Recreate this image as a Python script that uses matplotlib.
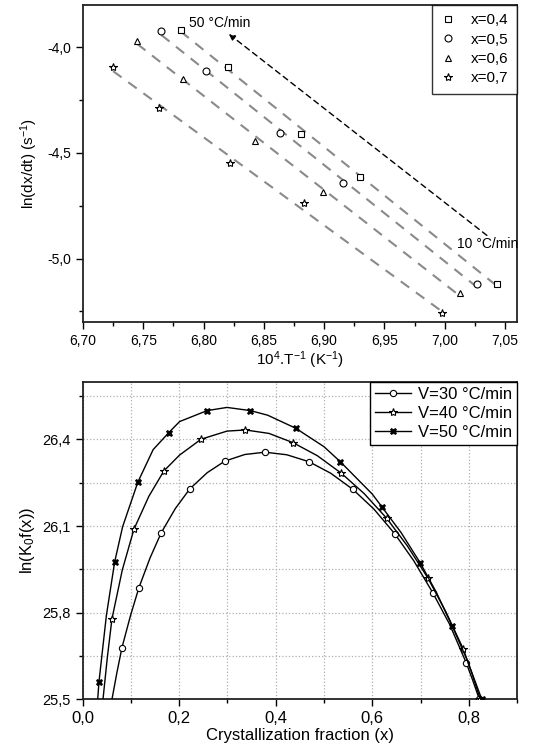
import numpy as np
import matplotlib
matplotlib.use("Agg")
import matplotlib.pyplot as plt
from matplotlib.ticker import MultipleLocator, FuncFormatter

plt.rcParams['font.family'] = ['Liberation Sans', 'DejaVu Sans']
plt.rcParams['mathtext.fontset'] = 'custom'
plt.rcParams['mathtext.rm'] = 'Liberation Sans'
plt.rcParams['mathtext.it'] = 'Liberation Sans'

# ---------------- Top panel data ----------------
top_labels = ['x=0,4', 'x=0,5', 'x=0,6', 'x=0,7']
top_markers = ['s', 'o', '^', '*']
invT_04 = [6.781, 6.820, 6.881, 6.930, 7.043]
rate_04 = [-3.917, -4.094, -4.408, -4.613, -5.118]
invT_05 = [6.765, 6.802, 6.863, 6.916, 7.027]
rate_05 = [-3.925, -4.110, -4.406, -4.644, -5.121]
invT_06 = [6.745, 6.783, 6.843, 6.899, 7.013]
rate_06 = [-3.968, -4.149, -4.443, -4.684, -5.163]
invT_07 = [6.725, 6.763, 6.822, 6.883, 6.998]
rate_07 = [-4.094, -4.288, -4.547, -4.737, -5.258]
top_x = [invT_04, invT_05, invT_06, invT_07]
top_y = [rate_04, rate_05, rate_06, rate_07]

# ---------------- Bottom panel data ----------------
bot_labels = ['V=30 °C/min', 'V=40 °C/min', 'V=50 °C/min']
bot_markers = ['o', '*', 'X']
x30 = [0.0606, 0.071, 0.0813, 0.099, 0.1165, 0.1396, 0.1627, 0.192, 0.222, 0.258, 0.2944,
       0.336, 0.3778, 0.423, 0.4689, 0.514, 0.560, 0.6034, 0.6468, 0.686, 0.7255, 0.760,
       0.7946, 0.808, 0.822]
y30 = [25.500, 25.594, 25.679, 25.790, 25.887, 25.990, 26.077, 26.161, 26.229, 26.285, 26.325,
       26.348, 26.356, 26.347, 26.323, 26.283, 26.227, 26.159, 26.073, 25.980, 25.869, 25.761,
       25.627, 25.567, 25.500]
m30 = [2, 4, 6, 8, 10, 12, 14, 16, 18, 20, 22, 24]
x40 = [0.042, 0.051, 0.0606, 0.082, 0.1061, 0.137, 0.1682, 0.2007, 0.2454, 0.299, 0.3373,
       0.386, 0.4358, 0.486, 0.536, 0.583, 0.630, 0.6725, 0.715, 0.752, 0.789, 0.8065, 0.824]
y40 = [25.500, 25.645, 25.779, 25.948, 26.089, 26.203, 26.291, 26.346, 26.401, 26.429, 26.433,
       26.421, 26.389, 26.344, 26.283, 26.213, 26.127, 26.032, 25.921, 25.805, 25.673, 25.590,
       25.500]
m40 = [2, 4, 6, 8, 10, 12, 14, 16, 18, 20, 22]
x50 = [0.031, 0.0337, 0.049, 0.0662, 0.0827, 0.1144, 0.146, 0.1786, 0.2007, 0.2578, 0.299,
       0.3476, 0.3834, 0.4413, 0.500, 0.5338, 0.600, 0.6207, 0.660, 0.6993, 0.733, 0.7656,
       0.797, 0.827]
y50 = [25.500, 25.561, 25.790, 25.976, 26.098, 26.253, 26.365, 26.424, 26.462, 26.500, 26.511,
       26.500, 26.484, 26.439, 26.375, 26.323, 26.211, 26.165, 26.077, 25.973, 25.870, 25.754,
       25.635, 25.500]
m50 = [1, 3, 5, 7, 9, 11, 13, 15, 17, 19, 21, 23]
bot_x = [x30, x40, x50]
bot_y = [y30, y40, y50]
bot_m = [m30, m40, m50]

fig = plt.figure(figsize=(5.33, 7.51), dpi=100)

def comma(fmt):
    return FuncFormatter(lambda v, p: (fmt % v).replace('.', ','))

def style_axes(ax, fs):
    for s in ax.spines.values():
        s.set_linewidth(1.3)
        s.set_color('#222222')
    ax.tick_params(which='major', direction='out', length=5, width=1, labelsize=fs,
                   top=False, right=False)
    ax.tick_params(which='minor', direction='out', length=3, width=1,
                   top=False, right=False)

# ---------------- Top axes ----------------
ax1 = fig.add_axes([0.1557, 0.5712, 0.8143, 0.4221])
for xs, ys, mk, lab in zip(top_x, top_y, top_markers, top_labels):
    xs = np.array(xs); ys = np.array(ys)
    k, b = np.polyfit(xs, ys, 1)
    xl = np.array([xs.min(), xs.max()])
    ax1.plot(xl, k * xl + b, color='#8a8a8a', lw=1.5, ls=(0, (5, 4)), zorder=1)
    ax1.plot(xs, ys, ls='none', marker=mk, mfc='white', mec='black', mew=0.8,
             ms=6 if mk == '*' else 5, label=lab, zorder=3)

ax1.annotate('', xy=(6.821, -3.937), xytext=(7.035, -4.89),
             arrowprops=dict(arrowstyle='-|>', color='black', lw=1.0, ls=(0, (4, 3)),
                             mutation_scale=9, shrinkA=0, shrinkB=0))
ax1.text(6.788, -3.887, '50 °C/min', fontsize=10, va='center', ha='left')
ax1.text(7.010, -4.932, '10 °C/min', fontsize=10, va='center', ha='left')

ax1.set_xlim(6.70, 7.06)
ax1.set_ylim(-5.30, -3.80)
ax1.xaxis.set_major_locator(MultipleLocator(0.05))
ax1.xaxis.set_minor_locator(MultipleLocator(0.025))
ax1.yaxis.set_major_locator(MultipleLocator(0.5))
ax1.yaxis.set_minor_locator(MultipleLocator(0.25))
ax1.xaxis.set_major_formatter(comma('%.2f'))
ax1.yaxis.set_major_formatter(comma('%.1f'))
style_axes(ax1, 10)
ax1.set_xlabel(r'10$^{4}$.T$^{-1}$ (K$^{-1}$)', fontsize=11, labelpad=1)
ax1.set_ylabel(r'ln(dx/dt) (s$^{-1}$)', fontsize=11, labelpad=5)
leg1 = ax1.legend(loc='upper right', fontsize=11, frameon=True, fancybox=False,
                  edgecolor='black', handlelength=1.0, handletextpad=1.0,
                  borderpad=0.55, labelspacing=0.35, borderaxespad=0.0)
leg1.get_frame().set_linewidth(1.0)

# ---------------- Bottom axes ----------------
ax2 = fig.add_axes([0.1552, 0.0688, 0.8148, 0.4229])
for xs, ys, mk, ms, lab in zip(bot_x, bot_y, bot_markers, bot_m, bot_labels):
    if mk == 'o':
        kw = dict(mfc='white', mec='black', ms=4.5, mew=0.8)
    elif mk == '*':
        kw = dict(mfc='white', mec='black', ms=6, mew=0.8)
    else:
        kw = dict(mfc='black', mec='black', ms=4.5, mew=0.5)
    ax2.plot(xs, ys, color='black', lw=1.0, marker=mk, markevery=ms, label=lab,
             zorder=3, **kw)

ax2.set_xlim(0.0, 0.9)
ax2.set_ylim(25.5, 26.6)
ax2.xaxis.set_major_locator(MultipleLocator(0.2))
ax2.xaxis.set_minor_locator(MultipleLocator(0.1))
ax2.yaxis.set_major_locator(MultipleLocator(0.3))
ax2.yaxis.set_minor_locator(MultipleLocator(0.15))
ax2.xaxis.set_major_formatter(comma('%.1f'))
ax2.yaxis.set_major_formatter(comma('%.1f'))
ax2.grid(which='both', color='#b0b0b0', ls=':', lw=0.9)
ax2.set_axisbelow(True)
style_axes(ax2, 10.5)
ax2.tick_params(axis='x', which='major', labelsize=12)
ax2.set_xlabel('Crystallization fraction (x)', fontsize=12, labelpad=1)
ax2.set_ylabel(r'ln(K$_{0}$f(x))', fontsize=12, labelpad=4)
leg2 = ax2.legend(loc='upper right', fontsize=12, frameon=True, fancybox=False,
                  edgecolor='black', handlelength=2.2, handletextpad=0.4,
                  borderpad=0.3, labelspacing=0.25, borderaxespad=0.0, framealpha=1)
leg2.get_frame().set_linewidth(1.0)

fig.savefig('out.png', dpi=100)
